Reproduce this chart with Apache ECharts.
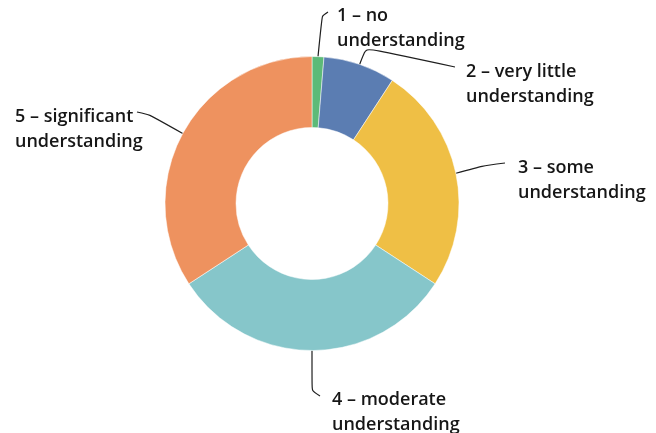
<!DOCTYPE html>
<html><head><meta charset="utf-8">
<script src="https://cdn.jsdelivr.net/npm/echarts@6/dist/echarts.min.js"></script>
<style>html,body{margin:0;padding:0;background:#fff}#c{width:656px;height:433px}</style>
</head><body><div id="c"></div>
<script>
// Data
const categories = ['1 – no\nunderstanding', '2 – very little\nunderstanding', '3 – some\nunderstanding', '4 – moderate\nunderstanding', '5 – significant\nunderstanding'];
const values = [1.3, 7.9, 25.0, 31.6, 34.2];
const colors = ['#5dba78', '#5b7db2', '#efbf45', '#86c6ca', '#ee925f'];
// Label layout (text anchor x, top y, alignment) and leader line bend/end points
const labelX = [337, 466, 518, 332, 15];
const labelY = [3, 59, 155, 387, 104];
const labelAlign = ['left', 'left', 'left', 'left', 'left'];
const lineBends = [
  [[322, 16], [328, 12]],
  [[366, 48], [455, 67]],
  [[482, 166], [505, 163]],
  [[312, 391], [320, 396]],
  [[150, 115], [137, 112]]
];

const chart = echarts.init(document.getElementById('c'), null, {renderer: 'canvas'});
chart.setOption({
  animation: false,
  color: colors,
  series: [{
    type: 'pie',
    center: [312, 203.5],
    radius: [76, 147],
    startAngle: 90,
    clockwise: true,
    avoidLabelOverlap: false,
    itemStyle: {borderColor: '#ffffff', borderWidth: 0.5},
    label: {
      show: true,
      formatter: '{b}',
      color: '#161616',
      fontFamily: 'Open Sans',
      fontWeight: 600,
      fontSize: 18,
      lineHeight: 25
    },
    labelLine: {
      show: true,
      smooth: 0.2,
      lineStyle: {color: '#1f1f1f', width: 1.2}
    },
    labelLayout: function (params) {
      const i = params.dataIndex;
      const start = params.labelLinePoints ? params.labelLinePoints[0] : null;
      const pts = start ? [start].concat(lineBends[i]) : undefined;
      return {
        x: labelX[i],
        y: labelY[i],
        align: labelAlign[i],
        verticalAlign: 'top',
        labelLinePoints: pts
      };
    },
    data: categories.map((c, i) => ({name: c, value: values[i]}))
  }]
});
</script>
</body></html>
